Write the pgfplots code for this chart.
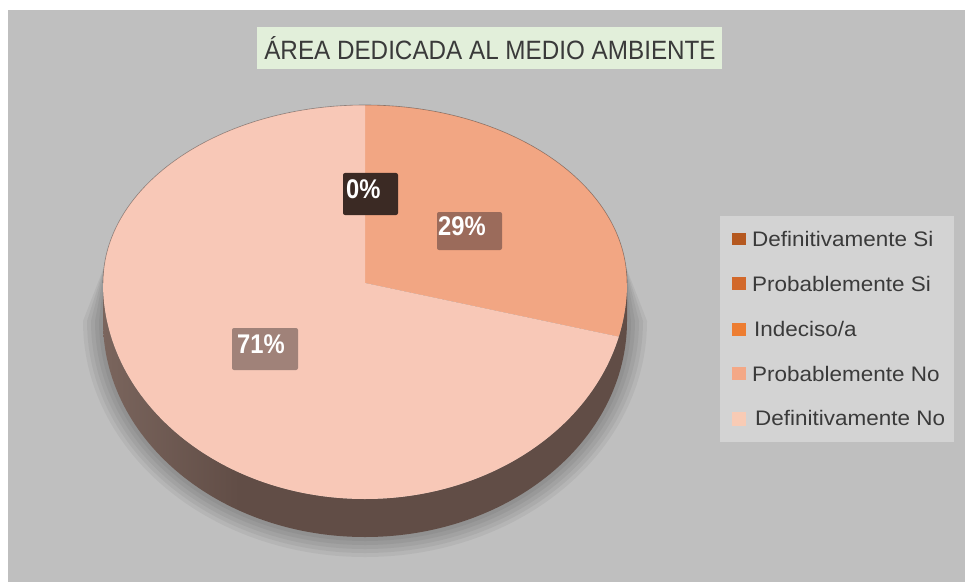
\documentclass[border=0pt]{standalone}
\usepackage{pgfplots}
\pgfplotsset{compat=1.18}
\usepackage{pgfplotstable}
\usepackage{fontspec}
\setmainfont{Liberation Sans}
\usepackage{graphicx}

\definecolor{bgray}{HTML}{BFBFBF}
\definecolor{titlebg}{HTML}{E2EFDA}
\definecolor{legbg}{HTML}{D3D3D3}
\definecolor{txt}{HTML}{3A3A3A}
\definecolor{cDS}{HTML}{B5581F}
\definecolor{cPS}{HTML}{D2682A}
\definecolor{cIN}{HTML}{ED7D31}
\definecolor{cPN}{HTML}{F2A683}
\definecolor{cDN}{HTML}{F8C8B7}
\definecolor{cPNl}{HTML}{F4A886}
\definecolor{cDNl}{HTML}{F8CBB5}
\definecolor{sideA}{HTML}{B39386}
\definecolor{sideB}{HTML}{7A655D}
\definecolor{sideC}{HTML}{614D46}
\definecolor{lab0}{HTML}{3B2A24}
\definecolor{lab29}{HTML}{9B6B5B}
\definecolor{lab71}{HTML}{A08279}

\pgfdeclarehorizontalshading{sideshade}{100bp}{color(0bp)=(sideA); color(25bp)=(sideB); color(38bp)=(sideC); color(100bp)=(sideC)}

\pgfplotstableread[col sep=comma]{
label,value
Definitivamente Si,0
Probablemente Si,0
Indeciso/a,0
Probablemente No,29
Definitivamente No,71
}\datatable

\pgfplotstablegetelem{0}{value}\of\datatable \edef\vDS{\pgfplotsretval}
\pgfplotstablegetelem{3}{value}\of\datatable \edef\vPN{\pgfplotsretval}
\pgfplotstablegetelem{4}{value}\of\datatable \edef\vDN{\pgfplotsretval}
\pgfmathsetmacro{\aA}{90-3.6*\vPN}
\pgfmathsetmacro{\aAp}{\aA+360}

\newcommand{\lfont}{\fontsize{21}{24}\selectfont}
\newcommand{\pfont}{\fontsize{27}{30}\selectfont\bfseries}

\begin{document}
\begin{tikzpicture}
\begin{axis}[hide axis, scale only axis, x=1pt, y=1pt,
  xmin=0, xmax=965, ymin=0, ymax=582, clip=false]
% background
\fill[white] (axis cs:0,0) rectangle (axis cs:965,582);
\fill[bgray] (axis cs:8,0) rectangle (axis cs:965,572);
% title
\fill[titlebg] (axis cs:257,513) rectangle (axis cs:722,555);
\node[text=txt, inner sep=0] at (axis cs:490,534) {\scalebox{0.915}[1]{\fontsize{26.5}{30}\selectfont ÁREA DEDICADA AL MEDIO AMBIENTE}};
% shadow
\fill[black, opacity=0.05] (axis cs:106,320) -- (axis cs:83,261) arc[start angle=180,end angle=360,x radius=282,y radius=236] -- (axis cs:624,320) -- cycle;
\fill[black, opacity=0.05] (axis cs:106,320) -- (axis cs:87,261) arc[start angle=180,end angle=360,x radius=278,y radius=232] -- (axis cs:624,320) -- cycle;
\fill[black, opacity=0.05] (axis cs:106,320) -- (axis cs:91,261) arc[start angle=180,end angle=360,x radius=274,y radius=228] -- (axis cs:624,320) -- cycle;
\fill[black, opacity=0.05] (axis cs:106,320) -- (axis cs:95,261) arc[start angle=180,end angle=360,x radius=270,y radius=224] -- (axis cs:624,320) -- cycle;
\fill[black, opacity=0.05] (axis cs:106,320) -- (axis cs:99,261) arc[start angle=180,end angle=360,x radius=266,y radius=220] -- (axis cs:624,320) -- cycle;
% side
\shade[shading=sideshade] (axis cs:103,299) arc[start angle=180,end angle=360,x radius=262,y radius=216] -- (axis cs:627,261) arc[start angle=0,end angle=-180,x radius=262,y radius=216] -- cycle;
% top face: Probablemente No
\fill[cPN] (axis cs:365,299) -- (axis cs:365,477) arc[start angle=90,end angle=0,x radius=262,y radius=178] arc[start angle=0,end angle=\aA,x radius=262,y radius=216] -- cycle;
% top face: Definitivamente No
\fill[cDN] (axis cs:365,299) -- (axis cs:365,477) arc[start angle=90,end angle=180,x radius=262,y radius=178] arc[start angle=180,end angle=\aAp,x radius=262,y radius=216] -- cycle;
\draw[black, opacity=0.35, line width=0.6pt] (axis cs:103,299) arc[start angle=180,end angle=0,x radius=262,y radius=178];
% data labels
\fill[lab0, rounded corners=2pt] (axis cs:343,367) rectangle (axis cs:398,409);
\node[text=white, inner sep=0, anchor=base west] at (axis cs:346,384) {\scalebox{0.88}[1]{\pfont \vDS\%}};
\fill[lab29, rounded corners=2pt] (axis cs:437,332) rectangle (axis cs:502,370);
\node[text=white, inner sep=0, anchor=base west] at (axis cs:438,347) {\scalebox{0.88}[1]{\pfont \vPN\%}};
\fill[lab71, rounded corners=2pt] (axis cs:232,212) rectangle (axis cs:298,254);
\node[text=white, inner sep=0, anchor=base west] at (axis cs:237,229) {\scalebox{0.88}[1]{\pfont \vDN\%}};
% legend
\fill[legbg] (axis cs:720,140) rectangle (axis cs:954,366);
\fill[cDS] (axis cs:732,337) rectangle (axis cs:746,349);
\node[text=txt, inner sep=0, anchor=base west] at (axis cs:752,336) {\scalebox{1.07}[1]{\lfont Definitivamente Si}};
\fill[cPS] (axis cs:732,292) rectangle (axis cs:746,305);
\node[text=txt, inner sep=0, anchor=base west] at (axis cs:752,291) {\scalebox{1.07}[1]{\lfont Probablemente Si}};
\fill[cIN] (axis cs:732,246) rectangle (axis cs:746,259);
\node[text=txt, inner sep=0, anchor=base west] at (axis cs:754,246) {\scalebox{1.07}[1]{\lfont Indeciso/a}};
\fill[cPNl] (axis cs:732,202) rectangle (axis cs:746,215);
\node[text=txt, inner sep=0, anchor=base west] at (axis cs:752,201) {\scalebox{1.07}[1]{\lfont Probablemente No}};
\fill[cDNl] (axis cs:732,156) rectangle (axis cs:746,170);
\node[text=txt, inner sep=0, anchor=base west] at (axis cs:755,157) {\scalebox{1.07}[1]{\lfont Definitivamente No}};
\end{axis}
\end{tikzpicture}
\end{document}
